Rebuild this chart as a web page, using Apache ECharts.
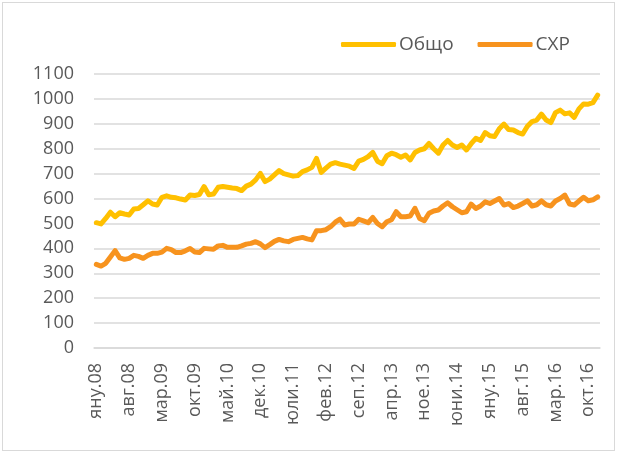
<!DOCTYPE html>
<html>
<head>
<meta charset="utf-8">
<script src="https://cdn.jsdelivr.net/npm/echarts@6/dist/echarts.min.js"></script>
<style>
  html, body { margin: 0; padding: 0; background: #fff; }
  #chart { position: absolute; left: 0; top: 0; width: 617px; height: 457px; }
  #frame { position: absolute; left: 2px; top: 2px; width: 611px; height: 447px; border: 1px solid #d9d9d9; pointer-events: none; }
</style>
</head>
<body>
<div id="chart"></div>
<div id="frame"></div>
<script>
// месеци, яну.08 - дек.16
const monthNames = ['яну', 'фев', 'мар', 'апр', 'май', 'юни', 'юли', 'авг', 'сеп', 'окт', 'ное', 'дек'];
const years = ['08', '09', '10', '11', '12', '13', '14', '15', '16'];
const categories = [];
years.forEach(y => monthNames.forEach(m => categories.push(m + '.' + y)));

const totalValues = [
  503, 498, 520, 545, 527, 543, 538, 534, 558, 560, 575, 591,
  578, 574, 605, 611, 605, 603, 598, 594, 614, 612, 616, 648,
  615, 618, 645, 648, 645, 642, 640, 632, 650, 658, 675, 701,
  668, 678, 695, 712, 700, 695, 690, 692, 708, 715, 725, 761,
  705, 722, 738, 744, 738, 734, 730, 721, 750, 757, 768, 785,
  750, 740, 772, 782, 776, 766, 775, 755, 785, 795, 800, 821,
  800, 782, 815, 833, 815, 805, 815, 795, 820, 842, 833, 865,
  852, 849, 880, 899, 877, 875, 865, 859, 890, 909, 915, 939,
  915, 905, 945, 955, 940, 944, 926, 960, 980, 979, 985, 1015
];
const schrValues = [
  336, 329, 340, 365, 391, 362, 356, 360, 372, 368, 360, 372,
  380, 380, 385, 400, 395, 383, 383, 390, 399, 385, 383, 400,
  398, 396, 410, 412, 404, 404, 404, 410, 417, 420, 427, 418,
  403, 415, 428, 436, 430, 427, 436, 440, 444, 438, 434, 471,
  471, 475, 487, 505, 517, 494, 498, 498, 517, 510, 503, 524,
  500, 487, 507, 515, 547, 527, 527, 530, 561, 520, 511, 541,
  550, 554, 570, 583, 567, 555, 543, 547, 578, 560, 570, 587,
  580, 590, 600, 574, 580, 564, 570, 580, 591, 570, 575, 591,
  575, 570, 590, 600, 614, 578, 574, 590, 605, 591, 595, 607
];

let chart = echarts.init(document.getElementById('chart'));
const font = '"Open Sans", "Noto Sans", sans-serif';

chart.setOption({
  animation: false,
  color: ['#FFC000', '#F7931E'],
  textStyle: { fontFamily: font },
  grid: {
    left: 94,
    right: 17,
    top: 74,
    bottom: 109
  },
  legend: {
    data: ['Общо', 'СХР'],
    left: 336,
    top: 30,
    icon: 'roundRect',
    itemWidth: 55,
    itemHeight: 5,
    itemGap: 24,
    textStyle: {
      color: '#595959',
      fontSize: 19,
      fontFamily: font,
      padding: [0, 0, 0, -2]
    }
  },
  xAxis: {
    type: 'category',
    data: categories,
    boundaryGap: true,
    axisLabel: {
      interval: 6,
      rotate: 90,
      color: '#595959',
      fontSize: 18,
      margin: 15,
      fontFamily: font
    },
    axisLine: {
      lineStyle: { color: '#d9d9d9', width: 1.5 }
    },
    axisTick: { show: false }
  },
  yAxis: {
    type: 'value',
    min: 0,
    max: 1100,
    interval: 100,
    axisLabel: {
      color: '#595959',
      fontSize: 18,
      margin: 20,
      fontFamily: font,
      formatter: v => String(v)
    },
    axisLine: { show: false },
    axisTick: { show: false },
    splitLine: {
      lineStyle: { color: '#d9d9d9', width: 1.5 }
    }
  },
  series: [
    {
      name: 'Общо',
      type: 'line',
      data: totalValues,
      showSymbol: false,
      lineStyle: { width: 5, cap: 'round', join: 'round' }
    },
    {
      name: 'СХР',
      type: 'line',
      data: schrValues,
      showSymbol: false,
      lineStyle: { width: 5, cap: 'round', join: 'round' }
    }
  ]
});
</script>
</body>
</html>
